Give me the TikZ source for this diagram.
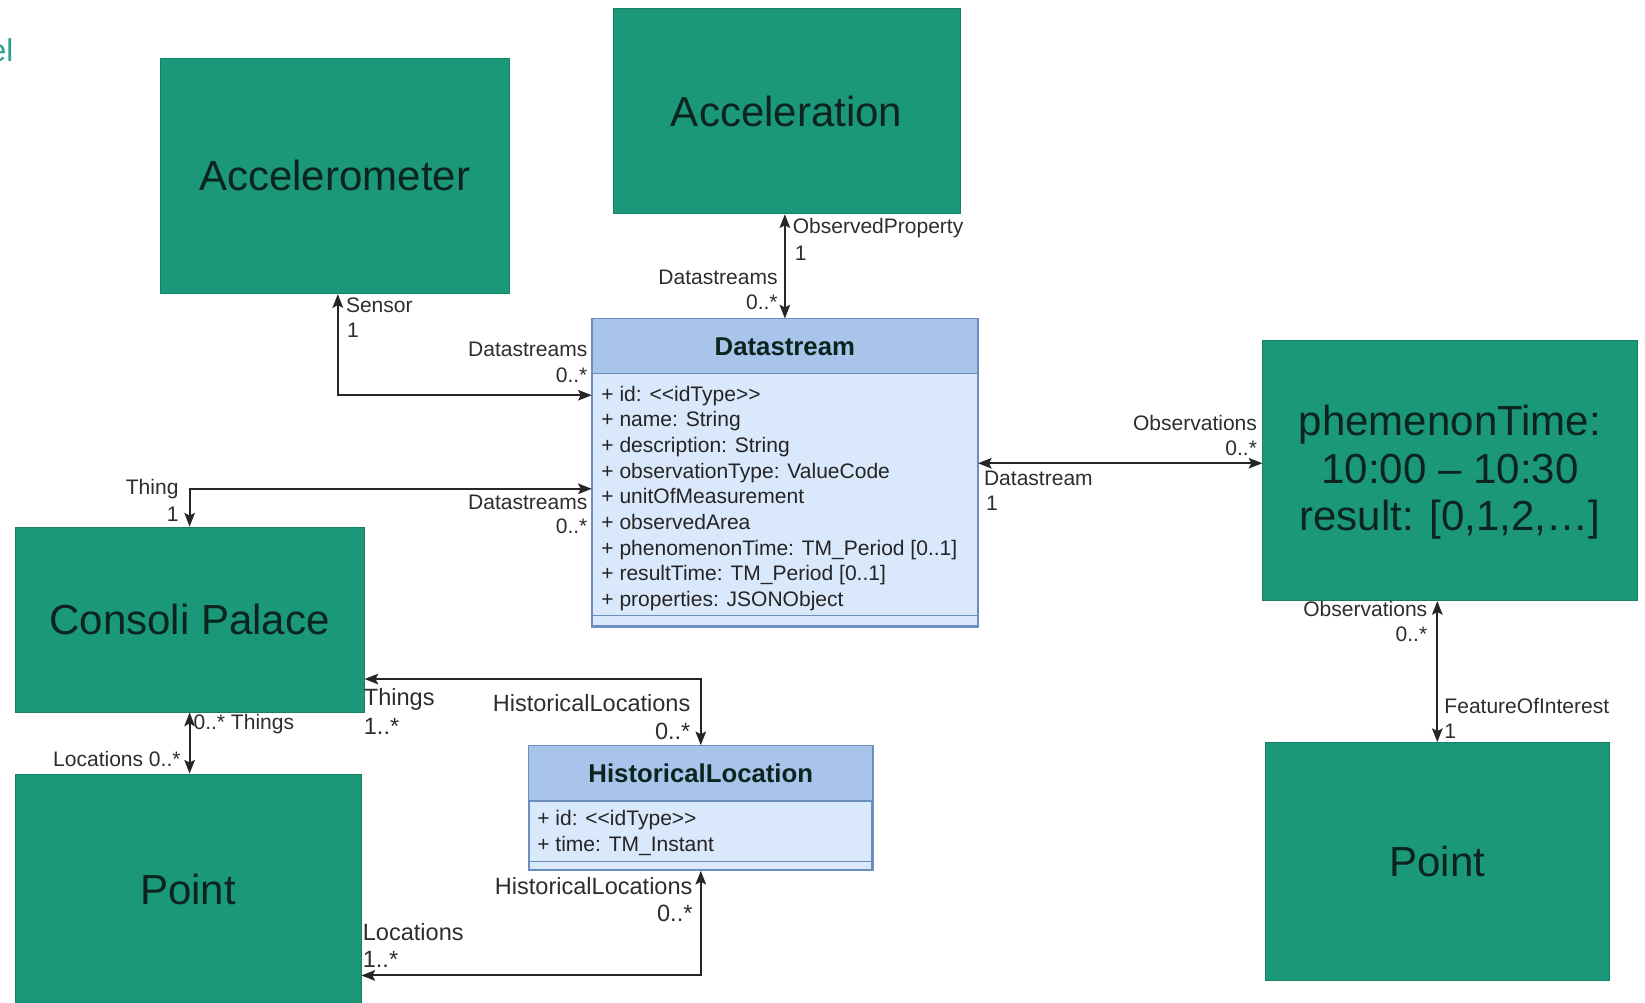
\documentclass[tikz,border=0pt]{standalone}
\usepackage{fontspec}
\setmainfont{Liberation Sans}
\usetikzlibrary{arrows.meta,calc}
\definecolor{boxgreen}{RGB}{27,152,122}
\definecolor{boxtext}{RGB}{12,36,30}
\definecolor{hdrblue}{RGB}{169,196,235}
\definecolor{bodyblue}{RGB}{218,232,252}
\definecolor{clsborder}{RGB}{108,142,191}
\definecolor{lbl}{RGB}{45,45,45}
\definecolor{tealtxt}{RGB}{42,160,150}
\tikzset{
  greenbox/.style={rectangle, fill=boxgreen, draw=boxgreen!85!black, line width=0.8pt,
    text=boxtext, font=\fontsize{40}{45}\selectfont, align=center, inner sep=0pt},
  clsbox/.style={rectangle, fill=bodyblue, draw=clsborder, line width=1.4pt, inner sep=0pt},
  clstitle/.style={font=\fontsize{24.5}{27}\selectfont\bfseries, text=boxtext, inner sep=0pt},
  attrs/.style={font=\fontsize{20}{24.4}\selectfont, text=lbl!80!black, align=left, inner sep=0pt, anchor=north west},
  conn/.style={{Stealth[length=13pt,width=10pt,inset=2.5pt]}-{Stealth[length=13pt,width=10pt,inset=2.5pt]}, line width=1.9pt, draw=black!85},
  lab/.style={font=\fontsize{20}{22}\selectfont, text=lbl, inner sep=0pt},
  labl/.style={lab, anchor=west},
  labr/.style={lab, anchor=east},
  bigl/.style={font=\fontsize{22.4}{25}\selectfont},
}
\begin{document}
\begin{tikzpicture}[x=1pt,y=-1pt]
\useasboundingbox (0,0) rectangle (1565,954);
\node[font=\fontsize{30}{34}\selectfont, text=tealtxt, anchor=east, inner sep=0pt] (cut) at (13,48) {el};

% green boxes
\node[greenbox, minimum width=332, minimum height=224, anchor=north west] (accm) at (152,55) {Accelerometer};
\node[greenbox, minimum width=330, minimum height=195, anchor=north west] (acc) at (583,8) {Acceleration};
\node[greenbox, minimum width=356, minimum height=248, anchor=north west] (ph) at (1201,323) {};
\node[text=boxtext, font=\fontsize{40}{45}\selectfont, align=center, inner sep=0pt] (phtxt) at ($(ph.center)+(0,2)$)
  {phemenonTime:\\10:00 -- 10:30\\result: [0,1,2,\ldots]};
\node[greenbox, minimum width=332, minimum height=176, anchor=north west] (cp) at (14,501) {Consoli Palace};
\node[greenbox, minimum width=329, minimum height=222, anchor=north west] (pl) at (14,736) {};
\node[text=boxtext, font=\fontsize{40}{45}\selectfont, inner sep=0pt] (pltxt) at (179,846) {Point};
\node[greenbox, minimum width=328, minimum height=226, anchor=north west] (pr) at (1203,706) {Point};

% Datastream class
\node[clsbox, minimum width=366, minimum height=292, anchor=north west] (ds) at (563,303) {};
\fill[hdrblue] (ds.north west) rectangle ($(ds.north east)+(0,52)$);
\draw[clsborder, line width=1.4pt] (ds.north west) rectangle (ds.south east);
\draw[clsborder, line width=1.2pt] ($(ds.north west)+(0,52)$) -- ($(ds.north east)+(0,52)$);
\draw[clsborder, line width=1.2pt] ($(ds.south west)+(0,-11)$) -- ($(ds.south east)+(0,-11)$);
\node[clstitle] (dst) at ($(ds.north)+(0,27)$) {Datastream};
\node[attrs] (dsa) at ($(ds.north west)+(9,64)$) {%
+ id: {<}{<}idType{>}{>}\\
+ name: String\\
+ description: String\\
+ observationType: ValueCode\\
+ unitOfMeasurement\\
+ observedArea\\
+ phenomenonTime: TM\_Period [0..1]\\
+ resultTime: TM\_Period [0..1]\\
+ properties: JSONObject};

% HistoricalLocation class
\node[clsbox, minimum width=326, minimum height=118, anchor=north west] (hl) at (503,709) {};
\fill[hdrblue] (hl.north west) rectangle ($(hl.north east)+(0,53)$);
\draw[clsborder, line width=1.4pt] (hl.north west) rectangle (hl.south east);
\draw[clsborder, line width=1.2pt] ($(hl.north west)+(0,53)$) -- ($(hl.north east)+(0,53)$);
\draw[clsborder, line width=1.2pt] ($(hl.south west)+(0,-9)$) -- ($(hl.south east)+(0,-9)$);
\node[clstitle] (hlt) at ($(hl.north)+(0,27)$) {HistoricalLocation};
\node[attrs] (hla) at ($(hl.north west)+(8,62)$) {%
+ id: {<}{<}idType{>}{>}\\
+ time: TM\_Instant};

% connector helper points
\coordinate (c1) at ($(ds.north west)+(0,73)$);
\coordinate (c3) at ($(ds.north west)+(0,162)$);
\coordinate (c4) at ($(ds.east)+(0,-9)$);
\coordinate (c7) at ($(cp.north east)+(0,145)$);
\coordinate (c8) at ($(pl.north east)+(0,192)$);
\coordinate (c1s) at ($(accm.south)+(3,0)$);

% connectors
\draw[conn] (c1s) |- (c1);
\draw[conn] (acc.south -| ds.north) -- (ds.north);
\draw[conn] (cp.north) |- (c3);
\draw[conn] (c4) -- (c4 -| ph.west);
\draw[conn] (pr.north |- ph.south) -- (pr.north);
\draw[conn] (cp.south) -- (cp.south |- pl.north);
\draw[conn] (c7) -| (hl.north);
\draw[conn] (c8) -| (hl.south);

% labels
\node[labl] (l1) at (329,290) {Sensor};
\node[labl] (l2) at (330,314) {1};
\node[labr] (l3) at (559,332) {Datastreams};
\node[labr] (l4) at (559,357) {0..*};
\node[labl] (l5) at (754,217) {ObservedProperty};
\node[labl] (l6) at (756,241) {1};
\node[labr] (l7) at (740,264) {Datastreams};
\node[labr] (l8) at (740,288) {0..*};
\node[labr] (l9) at (170,465) {Thing};
\node[labr] (l10) at (170,489) {1};
\node[labr] (l11) at (559,478) {Datastreams};
\node[labr] (l12) at (559,501) {0..*};
\node[labr] (l13) at (1196,402) {Observations};
\node[labr] (l14) at (1196,426) {0..*};
\node[labl] (l15) at (936,455) {Datastream};
\node[labl] (l16) at (938,479) {1};
\node[labr] (l17) at (1358,579) {Observations};
\node[labr] (l18) at (1358,603) {0..*};
\node[labl] (l19) at (1374,672) {FeatureOfInterest};
\node[labl] (l20) at (1374,696) {1};
\node[labl] (l21) at (184,689) {0..* Things};
\node[labr] (l22) at (172,722) {Locations 0..*};
\node[labl, bigl] (l23) at (346,665) {Things};
\node[labl, bigl] (l24) at (346,691) {1..*};
\node[labr, bigl] (l25) at (657,669) {HistoricalLocations};
\node[labr, bigl] (l26) at (657,696) {0..*};
\node[labl, bigl] (l27) at (345,887) {Locations};
\node[labl, bigl] (l28) at (345,913) {1..*};
\node[labr, bigl] (l29) at (659,843) {HistoricalLocations};
\node[labr, bigl] (l30) at (659,869) {0..*};
\end{tikzpicture}
\end{document}
